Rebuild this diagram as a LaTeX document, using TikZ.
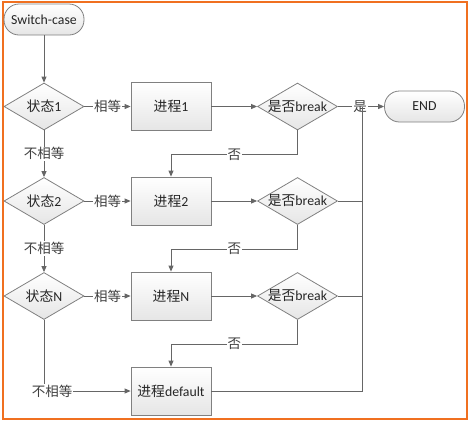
\documentclass[tikz,border=0pt]{standalone}
\usepackage{fontspec}
\setmainfont{Carlito}
\newfontfamily\zhf{Noto Sans CJK SC}
\usetikzlibrary{shapes.geometric,arrows.meta}
\definecolor{frameorange}{RGB}{240,112,32}
\begin{document}
\begin{tikzpicture}[x=1pt,y=-1pt,
 font=\fontsize{13.8}{16}\selectfont, text=black!85,
 boxbase/.style={draw=black!50, line width=0.8pt, top color=white, bottom color=black!10, inner sep=0pt},
 proc/.style={boxbase, minimum width=80pt, minimum height=48pt},
 term/.style={boxbase, minimum width=80pt, minimum height=31pt, rounded corners=15pt},
 dia/.style={boxbase, diamond, aspect=1.7, minimum width=80pt, minimum height=47pt},
 conn/.style={draw=black!60, line width=0.8pt},
 arr/.style={conn, -{Triangle[length=6pt,width=5pt]}},
 lab/.style={fill=white, inner sep=1pt, text=black!75, font=\fontsize{13.5}{15}\selectfont\zhf}
]
\useasboundingbox (0,0) rectangle (472,424);
\draw[frameorange, line width=1.5pt] (3,2) rectangle (467,419);

\node[term] (start) at (44,19.5) {Switch-case};
\node[dia] (d1) at (44,106.5) {{\zhf 状态}1};
\node[dia] (d2) at (44,201) {{\zhf 状态}2};
\node[dia] (d3) at (44,296) {{\zhf 状态}N};
\node[proc] (p1) at (171,106.5) {{\zhf 进程}1};
\node[proc] (p2) at (171,201) {{\zhf 进程}2};
\node[proc] (p3) at (171,296) {{\zhf 进程}N};
\node[proc] (pd) at (171,391) {{\zhf 进程}default};
\node[dia] (b1) at (297.5,106.5) {{\zhf 是否}break};
\node[dia] (b2) at (297.5,201) {{\zhf 是否}break};
\node[dia] (b3) at (297.5,296) {{\zhf 是否}break};
\node[term] (end) at (424.5,106.5) {END};
\coordinate (j) at (362,106.5);

\draw[arr] (start) -- (d1);
\draw[arr] (d1) -- node[lab]{相等} (p1);
\draw[arr] (d2) -- node[lab]{相等} (p2);
\draw[arr] (d3) -- node[lab]{相等} (p3);
\draw[arr] (d1) -- node[lab]{不相等} (d2);
\draw[arr] (d2) -- node[lab]{不相等} (d3);
\draw[arr] (d3.south) |- node[lab,pos=0.5,xshift=8pt]{不相等} (pd.west);

\draw[arr] (p1) -- (b1);
\draw[arr] (p2) -- (b2);
\draw[arr] (p3) -- (b3);

\draw[arr] (b1.south) -- ++(0,24) -| node[lab,pos=0.25]{否} (p2.north);
\draw[arr] (b2.south) -- ++(0,24) -| node[lab,pos=0.25]{否} (p3.north);
\draw[arr] (b3.south) -- ++(0,24) -| node[lab,pos=0.25]{否} (pd.north);

\draw[arr] (b1) -- node[lab,xshift=-1pt]{是} (end);
\draw[conn] (b2.east) -| (j);
\draw[conn] (b3.east) -| (j);
\draw[conn] (pd.east) -| (j);
\end{tikzpicture}
\end{document}
